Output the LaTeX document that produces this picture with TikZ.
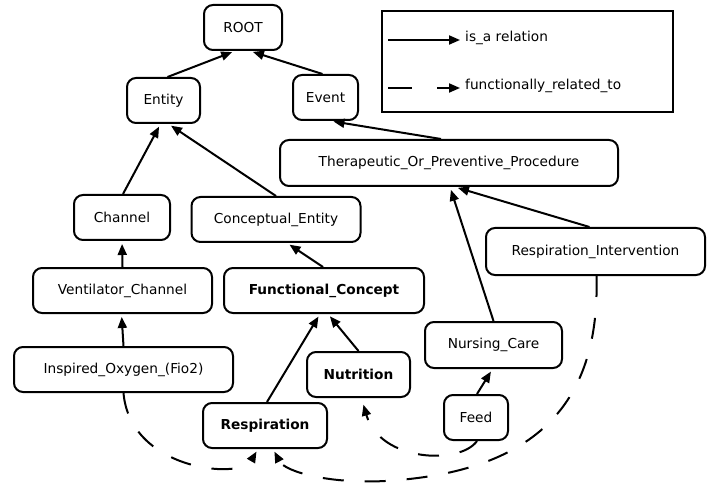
\documentclass[tikz,border=0pt]{standalone}
\usepackage{fontspec}
\setmainfont{DejaVu Sans}
\usetikzlibrary{arrows.meta,calc}
\begin{document}
\begin{tikzpicture}[x=1pt,y=-1pt]
\tikzset{
  box/.style={draw, line width=2pt, rounded corners=9pt, minimum height=45pt, inner sep=0pt, font=\fontsize{13.7}{16}\selectfont},
  bbox/.style={box, font=\fontsize{13.7}{16}\selectfont\bfseries},
  lbl/.style={anchor=west, inner sep=0pt, font=\fontsize{13.7}{16}\selectfont},
  isa/.style={line width=2pt, -{Triangle[length=11pt,width=9pt]}, shorten >=3pt},
  funcrel/.style={isa, dash pattern=on 21pt off 21pt},
}
\useasboundingbox (0,0) rectangle (721,484);
% nodes
\node[box, minimum width=78pt] (root) at (243,27.5) {ROOT};
\node[box, minimum width=73pt] (entity) at (163.5,100.5) {Entity};
\node[box, minimum width=65pt] (event) at (325.5,97.5) {Event};
\node[box, minimum width=338pt, minimum height=46pt] (ther) at (449,163) {Therapeutic\_Or\_Preventive\_Procedure};
\node[box, minimum width=96pt] (channel) at (122,217.5) {Channel};
\node[box, minimum width=169pt] (concept) at (276,219.5) {Conceptual\_Entity};
\node[box, minimum width=219pt, minimum height=47pt] (respint) at (595.5,251.5) {Respiration\_Intervention};
\node[box, minimum width=179pt] (vent) at (122.5,290.5) {Ventilator\_Channel};
\node[bbox, minimum width=200pt] (func) at (324,290.5) {Functional\_Concept};
\node[box, minimum width=137pt, minimum height=46pt] (nursing) at (493.5,345) {Nursing\_Care};
\node[box, minimum width=219pt] (inspired) at (123.5,369.5) {Inspired\_Oxygen\_(Fio2)};
\node[bbox, minimum width=103pt] (nutrition) at (358.5,374.5) {Nutrition};
\node[bbox, minimum width=124pt] (resp) at (265,425.5) {Respiration};
\node[box, minimum width=64pt] (feed) at (476,417.5) {Feed};
% is_a edges
\draw[isa] ([xshift=4pt]entity.north) -- ([xshift=-8pt]root.south);
\draw[isa] ([xshift=-3pt]event.north) -- ([xshift=7pt]root.south);
\draw[isa] ([xshift=-8pt]ther.north) -- ([xshift=5pt]event.south);
\draw[isa] ([xshift=1pt]channel.north) -- ([xshift=-3pt]entity.south);
\draw[isa] (concept.north) -- ([xshift=5pt]entity.south);
\draw[isa] (vent.north) -- (channel.south);
\draw[isa] ([xshift=-1pt]func.north) -- ([xshift=11pt]concept.south);
\draw[isa] (inspired.north) -- ([xshift=-1pt]vent.south);
\draw[isa] ([xshift=2pt]resp.north) -- ([xshift=-4pt]func.south);
\draw[isa] (nutrition.north) -- ([xshift=4pt]func.south);
\draw[isa] (nursing.north) -- ([xshift=1pt]ther.south);
\draw[isa] ([xshift=-6pt]respint.north) -- ([xshift=6pt]ther.south);
\draw[isa] ([xshift=1pt]feed.north) -- ([xshift=-1pt]nursing.south);
% functionally_related_to
\draw[funcrel] (inspired.south) .. controls (130,470) and (240,480) .. ([xshift=-7pt]resp.south);
\draw[funcrel] ([xshift=1pt]respint.south) .. controls (600,400) and (540,472) .. (385,481) .. controls (330,484) and (285,472) .. ([xshift=8pt]resp.south);
\draw[funcrel, shorten >=7pt] ([xshift=1pt]feed.south) .. controls (460,465) and (380,462) .. ([xshift=3pt]nutrition.south);
% legend
\node[draw, line width=2pt, minimum width=291pt, minimum height=101pt, inner sep=0pt] (legend) at (527.5,61.5) {};
\coordinate (la1) at (388,40);
\coordinate (la2) at (460,40);
\coordinate (lb1) at (388,88);
\coordinate (lb2) at (460,88);
\draw[isa, shorten >=0pt] (la1) -- (la2);
\draw[isa, shorten >=0pt, dash pattern=on 24pt off 25pt] (lb1) -- (lb2);
\node[lbl] (lt1) at (465,38) {is\_a relation};
\node[lbl] (lt2) at (465,86) {functionally\_related\_to};
\end{tikzpicture}
\end{document}
